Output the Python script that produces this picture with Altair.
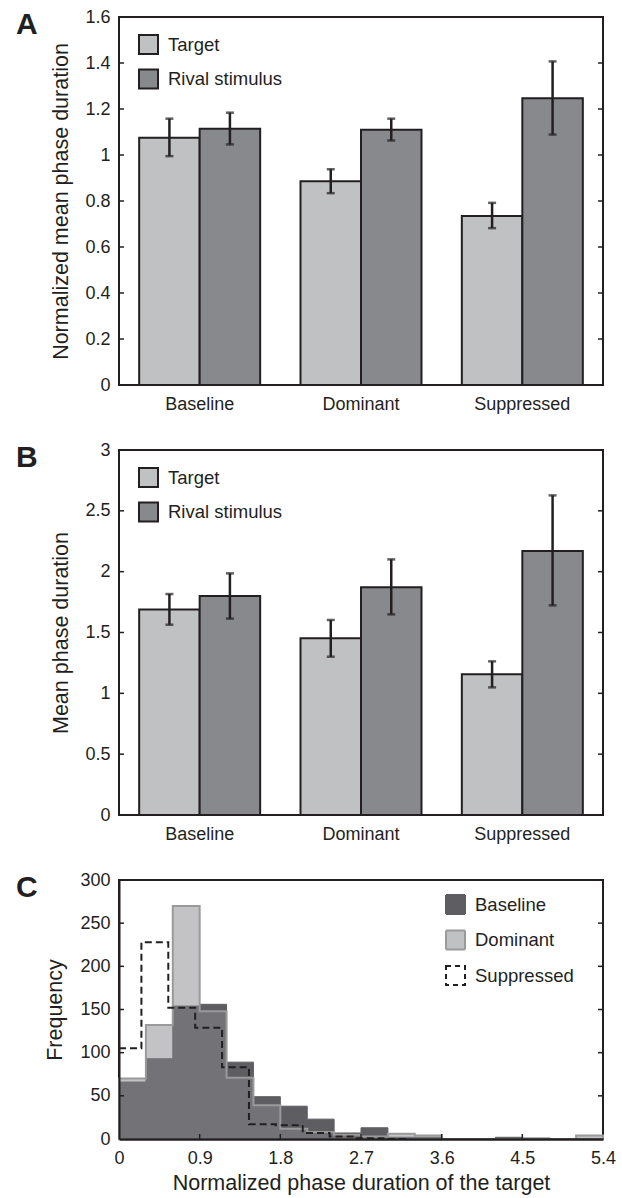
import altair as alt
import pandas as pd

FONT = "Liberation Sans"
INK = "#231f20"
LIGHT = "#c0c1c3"
DARK = "#88898c"
HIST_DARK = "#5e5e62"
HIST_DOM = "#87888b"
HIST_DOM_EDGE = "#9a9a9a"

CATEGORIES = ["Baseline", "Dominant", "Suppressed"]
SERIES_AB = ["Target", "Rival stimulus"]

# Panel A: normalized mean phase duration
A_TARGET = [1.075, 0.886, 0.735]
A_TARGET_LO = [0.995, 0.834, 0.682]
A_TARGET_HI = [1.158, 0.938, 0.792]
A_RIVAL = [1.114, 1.110, 1.247]
A_RIVAL_LO = [1.046, 1.063, 1.089]
A_RIVAL_HI = [1.184, 1.158, 1.407]
A_YTICKS = [0, 0.2, 0.4, 0.6, 0.8, 1.0, 1.2, 1.4, 1.6]

# Panel B: mean phase duration
B_TARGET = [1.690, 1.452, 1.156]
B_TARGET_LO = [1.564, 1.301, 1.049]
B_TARGET_HI = [1.816, 1.603, 1.263]
B_RIVAL = [1.800, 1.871, 2.170]
B_RIVAL_LO = [1.614, 1.649, 1.723]
B_RIVAL_HI = [1.986, 2.101, 2.627]
B_YTICKS = [0, 0.5, 1.0, 1.5, 2.0, 2.5, 3.0]

# Panel C: histograms
HIST_SERIES = ["Baseline", "Dominant", "Suppressed"]
HIST_EDGES = [0, 0.3, 0.6, 0.9, 1.2, 1.5, 1.8, 2.1, 2.4, 2.7, 3.0, 3.3,
              3.6, 3.9, 4.2, 4.5, 4.8, 5.1, 5.4]
BASELINE_FREQ = [66, 93, 154, 156, 89, 49, 38, 23, 7, 13, 2, 2, 0, 0, 2, 0, 0, 0]
DOMINANT_FREQ = [70, 132, 270, 148, 71, 39, 12, 8, 5, 3, 6, 4, 0, 0, 0, 1, 0, 4]
SUPP_EDGES = [0, 0.25, 0.55, 0.85, 1.15, 1.45, 1.75, 2.05, 2.35, 2.65, 2.95, 3.25]
SUPPRESSED_FREQ = [105, 228, 152, 129, 83, 17, 16, 7, 3, 1, 0]
C_XTICKS = [0, 0.9, 1.8, 2.7, 3.6, 4.5, 5.4]
C_YTICKS = [0, 50, 100, 150, 200, 250, 300]

PANEL_LETTERS = ["A", "B", "C"]

W = 484
FMT = ".2~g"


def bar_frame(target, tlo, thi, rival, rlo, rhi):
    rows = []
    for i, c in enumerate(CATEGORIES):
        rows.append(dict(category=c, series=SERIES_AB[0], value=target[i], lo=tlo[i], hi=thi[i]))
        rows.append(dict(category=c, series=SERIES_AB[1], value=rival[i], lo=rlo[i], hi=rhi[i]))
    return pd.DataFrame(rows)


def y_ticks_layers(values, scale, axis):
    df = pd.DataFrame({"v": values})
    left = alt.Chart(df).mark_rule(color=INK, strokeWidth=1.5).encode(
        y=alt.Y("v:Q", scale=scale, axis=axis), x=alt.value(0), x2=alt.value(5))
    right = alt.Chart(df).mark_rule(color=INK, strokeWidth=1.5).encode(
        y=alt.Y("v:Q", scale=scale, axis=axis), x=alt.value(W - 5), x2=alt.value(W))
    return [left, right]


def x_ticks_layer(values, scale, axis, H):
    df = pd.DataFrame({"v": values})
    return alt.Chart(df).mark_rule(color=INK, strokeWidth=1.5).encode(
        x=alt.X("v:Q", scale=scale, axis=axis), y=alt.value(H - 5), y2=alt.value(H))


def letter(t):
    return alt.Chart(pd.DataFrame({"t": [t]})).mark_text(
        align="left", baseline="alphabetic", fontSize=30, fontWeight="bold",
        font=FONT, color=INK, x=-103, y=17).encode(text="t:N")


def bar_panel(df, ymax, yticks, title, let, H):
    base = alt.Chart(df)
    x = alt.X("category:N", sort=CATEGORIES,
              scale=alt.Scale(paddingInner=0.25, paddingOuter=0.125),
              axis=alt.Axis(title=None, labelAngle=0, ticks=False, domain=False,
                            labelPadding=10, labelBaseline="top"))
    xo = alt.XOffset("series:N", sort=SERIES_AB,
                     scale=alt.Scale(domain=SERIES_AB, paddingInner=0, paddingOuter=0))
    ysc = alt.Scale(domain=[0, ymax], nice=False)
    yax = alt.Axis(values=yticks, format=FMT, title=title, ticks=False,
                   domain=False, labelPadding=9, grid=False,
                   titleX=-58, titleY=H / 2, titleAngle=270,
                   titleAlign="center", titleBaseline="middle")
    y = alt.Y("value:Q", stack=None, scale=ysc, axis=yax)
    leg = alt.Legend(title=None, orient="none", legendX=19, legendY=17,
                     symbolType="square", symbolSize=361, symbolStrokeColor=INK,
                     symbolStrokeWidth=2, labelFontSize=18.5, labelOffset=9,
                     rowPadding=7.5, direction="vertical", padding=0)
    bars = base.mark_bar(stroke=INK, strokeWidth=2).encode(
        x=x, xOffset=xo, y=y,
        fill=alt.Fill("series:N", sort=SERIES_AB,
                      scale=alt.Scale(domain=SERIES_AB, range=[LIGHT, DARK]), legend=leg))
    err = base.mark_rule(color=INK, strokeWidth=2.5).encode(
        x=x, xOffset=xo, y=alt.Y("lo:Q", scale=ysc, axis=yax), y2="hi:Q")
    cap_lo = base.mark_tick(color=INK, thickness=2.5, size=8).encode(
        x=x, xOffset=xo, y=alt.Y("lo:Q", scale=ysc, axis=yax))
    cap_hi = base.mark_tick(color=INK, thickness=2.5, size=8).encode(
        x=x, xOffset=xo, y=alt.Y("hi:Q", scale=ysc, axis=yax))
    inner = [t for t in yticks if 0 < t < ymax]
    layers = [bars, err, cap_lo, cap_hi] + y_ticks_layers(inner, ysc, yax) + [letter(let)]
    return alt.layer(*layers).properties(width=W, height=H)


dfA = bar_frame(A_TARGET, A_TARGET_LO, A_TARGET_HI, A_RIVAL, A_RIVAL_LO, A_RIVAL_HI)
dfB = bar_frame(B_TARGET, B_TARGET_LO, B_TARGET_HI, B_RIVAL, B_RIVAL_LO, B_RIVAL_HI)

panelA = bar_panel(dfA, 1.6, A_YTICKS, "Normalized mean phase duration", PANEL_LETTERS[0], 368)
panelB = bar_panel(dfB, 3.0, B_YTICKS, "Mean phase duration", PANEL_LETTERS[1], 365)

# Panel C
rows = []
for i, v in enumerate(BASELINE_FREQ):
    rows.append(dict(series="Baseline", x=HIST_EDGES[i], freq=v))
rows.append(dict(series="Baseline", x=HIST_EDGES[-1], freq=BASELINE_FREQ[-1]))
for i, v in enumerate(DOMINANT_FREQ):
    rows.append(dict(series="Dominant", x=HIST_EDGES[i], freq=v))
rows.append(dict(series="Dominant", x=HIST_EDGES[-1], freq=DOMINANT_FREQ[-1]))
for i, v in enumerate(SUPPRESSED_FREQ):
    rows.append(dict(series="Suppressed", x=SUPP_EDGES[i], freq=v))
rows.append(dict(series="Suppressed", x=SUPP_EDGES[-1], freq=SUPPRESSED_FREQ[-1]))
dfC = pd.DataFrame(rows)

HC = 259
xscC = alt.Scale(domain=[0, 5.4], nice=False)
yscC = alt.Scale(domain=[0, 300], nice=False)
xaxC = alt.Axis(values=C_XTICKS, format=FMT, title="Normalized phase duration of the target",
                ticks=False, labelPadding=10, domain=True, domainColor=INK,
                domainWidth=2.5, zindex=1, titlePadding=5, labelFlush=False,
                labelOverlap=False, grid=False)
yaxC = alt.Axis(values=C_YTICKS, format="d", title="Frequency", ticks=False, labelPadding=9,
                domain=True, domainColor=INK, domainWidth=2, zindex=1, grid=False,
                titleX=-64, titleY=HC / 2, titleAngle=270,
                titleAlign="center", titleBaseline="middle", labelOverlap=False)
enc_x = alt.X("x:Q", scale=xscC, axis=xaxC)
enc_y = alt.Y("freq:Q", stack=None, scale=yscC, axis=yaxC)

base_area = alt.Chart(dfC).transform_filter(alt.datum.series == "Baseline").mark_area(
    interpolate="step-after", fill=HIST_DARK, stroke=HIST_DARK, strokeWidth=1
).encode(x=enc_x, y=enc_y)
dom_area = alt.Chart(dfC).transform_filter(alt.datum.series == "Dominant").mark_area(
    interpolate="step-after", fill=HIST_DOM, fillOpacity=0.5, stroke=HIST_DOM_EDGE, strokeWidth=2
).encode(x=enc_x, y=enc_y)
sup_line = alt.Chart(dfC).transform_filter(alt.datum.series == "Suppressed").mark_line(
    interpolate="step-after", stroke=INK, strokeWidth=2, strokeDash=[7, 4]
).encode(x=enc_x, y=enc_y)

legC = alt.Legend(title=None, orient="none", legendX=326, legendY=14,
                  symbolType="square", symbolSize=361, symbolStrokeWidth=2,
                  labelFontSize=18.5, labelOffset=9, rowPadding=8.5,
                  direction="vertical", padding=0)
legend_layer = alt.Chart(dfC).transform_filter("false").mark_square(
    strokeWidth=2, opacity=1, filled=True
).encode(
    x=enc_x, y=enc_y,
    fill=alt.Fill("series:N", scale=alt.Scale(domain=HIST_SERIES, range=[HIST_DARK, LIGHT, "#ffffff"]), legend=legC),
    stroke=alt.Stroke("series:N", scale=alt.Scale(domain=HIST_SERIES, range=[HIST_DARK, HIST_DOM_EDGE, INK]), legend=legC),
    strokeDash=alt.StrokeDash("series:N", scale=alt.Scale(domain=HIST_SERIES, range=[[1, 0], [1, 0], [5, 4]]), legend=legC),
)

panelC = alt.layer(base_area, dom_area, sup_line, legend_layer,
                   *y_ticks_layers([t for t in C_YTICKS if 0 < t < 300], yscC, yaxC),
                   x_ticks_layer([t for t in C_XTICKS if 0 < t < 5.4], xscC, xaxC, HC),
                   letter(PANEL_LETTERS[2])).properties(width=W, height=HC)

chart = alt.vconcat(panelA, panelB, panelC, spacing=65, bounds="flush").resolve_scale(
    fill="independent", stroke="independent", strokeDash="independent"
).resolve_legend(
    fill="independent", stroke="independent", strokeDash="independent"
).properties(
    padding={"left": 15, "top": 7, "right": 4, "bottom": 3}
).configure(font=FONT).configure_view(
    stroke=INK, strokeWidth=2
).configure_axis(
    labelFont=FONT, titleFont=FONT, labelFontSize=18, titleFontSize=21.5,
    labelColor=INK, titleColor=INK, titleFontWeight="normal"
).configure_legend(
    labelFont=FONT, labelColor=INK
)

chart.save("out.html", embed_options={"renderer": "svg", "actions": False})
